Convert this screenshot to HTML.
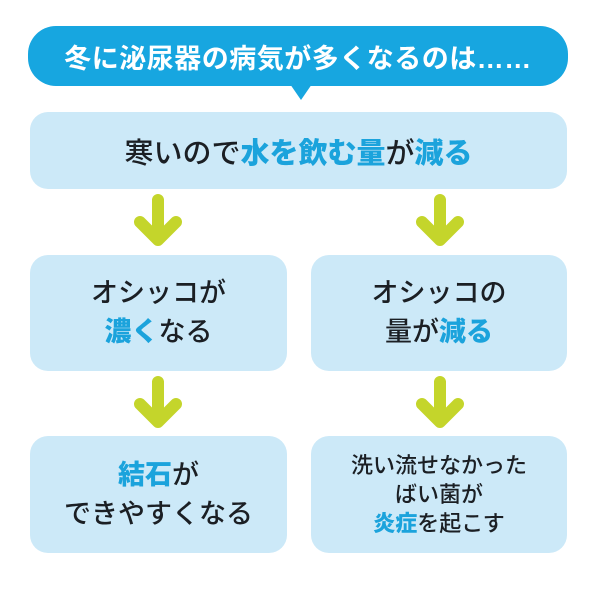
<!DOCTYPE html>
<html><head><meta charset="utf-8"><style>
body{margin:0;width:611px;height:600px;background:#fff;position:relative;overflow:hidden;font-family:"Liberation Sans","Noto Sans CJK JP",sans-serif;}
.b{position:absolute;background:#cce9f8;border-radius:18px;display:flex;flex-direction:column;align-items:center;justify-content:center;color:#1b1f24;font-weight:500;text-align:center;}
.h{color:#1ba3dc;font-weight:900;}
svg{position:absolute;left:0;top:0}
</style></head><body>
<svg width="611" height="600">
<rect x="28" y="26" width="540" height="60" rx="28" fill="#17a6e0"/>
<polygon points="290,84 312,84 301,100" fill="#17a6e0"/>
<g stroke="#c4d52b" stroke-width="12" stroke-linecap="round" stroke-linejoin="round" fill="none">
<path d="M158 200 V238 M140 222 L158 240 L176 222"/>
<path d="M440 200 V238 M422 222 L440 240 L458 222"/>
<path d="M158 382 V420 M140 404 L158 422 L176 404"/>
<path d="M440 382 V420 M422 404 L440 422 L458 404"/>
</g>
</svg>
<div style="position:absolute;left:28px;top:26px;width:540px;height:60px;display:flex;align-items:center;justify-content:center;color:#fff;font-weight:700;font-size:27px;letter-spacing:0.5px">冬に泌尿器の病気が多くなるのは……</div>
<div class="b" style="left:30px;top:112px;width:537px;height:77px;font-size:29px;">
<div>寒いので<span class="h">水を飲む量</span>が<span class="h">減る</span></div></div>
<div class="b" style="left:30px;top:255px;width:257px;height:116px;font-size:27px;line-height:39px;">
<div>オシッコが</div><div><span class="h">濃く</span>なる</div></div>
<div class="b" style="left:311px;top:255px;width:256px;height:116px;font-size:27px;line-height:39px;">
<div>オシッコの</div><div>量が<span class="h">減る</span></div></div>
<div class="b" style="left:30px;top:436px;width:257px;height:117px;font-size:27px;line-height:39px;">
<div><span class="h">結石</span>が</div><div>できやすくなる</div></div>
<div class="b" style="left:311px;top:436px;width:256px;height:117px;font-size:22px;line-height:29px;">
<div>洗い流せなかった</div><div>ばい菌が</div><div><span class="h">炎症</span>を起こす</div></div>
</body></html>
